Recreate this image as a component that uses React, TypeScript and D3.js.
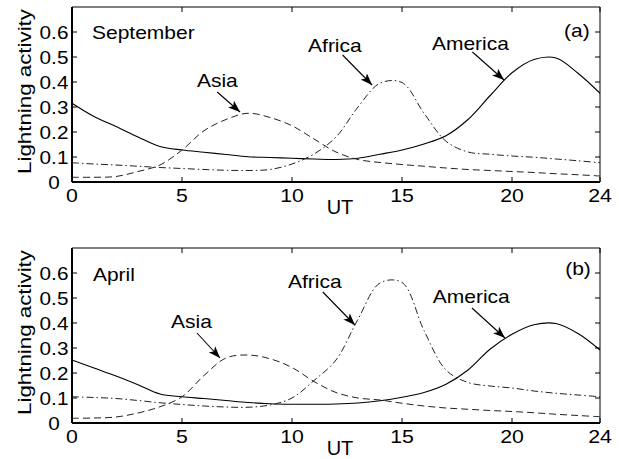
import React from "react";
import { scaleLinear, line, curveCatmullRom } from "d3";

// hours 0..24 (UT)
const hours = [0, 1, 2, 3, 4, 5, 6, 7, 8, 9, 10, 11, 12, 13, 14, 15, 16, 17, 18, 19, 20, 21, 22, 23, 24];

// September (panel a)
const sepAmerica = [0.315, 0.262, 0.222, 0.18, 0.142, 0.128, 0.119, 0.11, 0.101, 0.098, 0.095, 0.092, 0.09, 0.095, 0.111, 0.128, 0.152, 0.185, 0.25, 0.345, 0.437, 0.49, 0.496, 0.435, 0.355];
const sepAsia = [0.019, 0.019, 0.022, 0.042, 0.068, 0.128, 0.205, 0.25, 0.275, 0.258, 0.225, 0.172, 0.12, 0.09, 0.078, 0.07, 0.063, 0.056, 0.05, 0.046, 0.042, 0.038, 0.033, 0.029, 0.024];
const sepAfrica = [0.077, 0.072, 0.068, 0.063, 0.058, 0.054, 0.05, 0.047, 0.046, 0.05, 0.072, 0.112, 0.18, 0.3, 0.395, 0.398, 0.275, 0.163, 0.12, 0.111, 0.104, 0.099, 0.092, 0.085, 0.077];

// April (panel b)
const aprAmerica = [0.252, 0.22, 0.188, 0.153, 0.116, 0.105, 0.098, 0.09, 0.082, 0.077, 0.075, 0.075, 0.076, 0.08, 0.089, 0.103, 0.122, 0.155, 0.212, 0.295, 0.355, 0.393, 0.398, 0.358, 0.292];
const aprAsia = [0.019, 0.02, 0.024, 0.04, 0.065, 0.105, 0.19, 0.26, 0.272, 0.257, 0.222, 0.166, 0.122, 0.1, 0.092, 0.079, 0.068, 0.06, 0.055, 0.05, 0.046, 0.041, 0.035, 0.03, 0.025];
const aprAfrica = [0.105, 0.102, 0.098, 0.09, 0.081, 0.074, 0.068, 0.064, 0.063, 0.072, 0.1, 0.17, 0.252, 0.415, 0.56, 0.562, 0.37, 0.212, 0.162, 0.148, 0.14, 0.128, 0.119, 0.112, 0.105];

const xTicks = [0, 5, 10, 15, 20, 24];
const yTicks = [0, 0.1, 0.2, 0.3, 0.4, 0.5, 0.6];
const yTickLabels = ["0", "0.1", "0.2", "0.3", "0.4", "0.5", "0.6"];

const FONT = "'Liberation Sans', Arial, Helvetica, sans-serif";

const W = 619;
const H = 459;
const left = 72;
const right = 600;
const plotH = 175;

type Note = { text: string; th: number; tv: number; sh?: number; sv?: number; eh?: number; ev?: number; anchor?: string };

const Label = ({ x, y, size = 17.5, sx = 1.2, anchor = "start", children }: any) => (
  <text
    transform={`translate(${x},${y}) scale(${sx},1)`}
    fontSize={size}
    fontFamily={FONT}
    textAnchor={anchor}
    fill="#000"
  >
    {children}
  </text>
);

const Panel = ({ top, america, asia, africa, notes }: { top: number; america: number[]; asia: number[]; africa: number[]; notes: Note[] }) => {
  const x = scaleLinear().domain([0, 24]).range([left, right]);
  const y = scaleLinear().domain([0, 0.7]).range([plotH, 0]);

  const mk = (vals: number[]) =>
    line<number>()
      .x((d, i) => x(hours[i]))
      .y((d) => y(d))
      .curve(curveCatmullRom.alpha(0.5))(vals) || "";

  return (
    <g transform={`translate(0,${top})`}>
      <path d={mk(america)} fill="none" stroke="#000" strokeWidth={1.1} />
      <path d={mk(asia)} fill="none" stroke="#222" strokeWidth={1} strokeDasharray="7,4" />
      <path d={mk(africa)} fill="none" stroke="#222" strokeWidth={1} strokeDasharray="7,3,1.5,3" />

      {/* frame */}
      <line x1={left} x2={right} y1={0} y2={0} stroke="#000" strokeWidth={1} />
      <line x1={right} x2={right} y1={0} y2={plotH} stroke="#000" strokeWidth={1} />
      <line x1={left} x2={right} y1={plotH} y2={plotH} stroke="#000" strokeWidth={2} />
      <line x1={left} x2={left} y1={0} y2={plotH} stroke="#000" strokeWidth={2} />

      {xTicks.map((t) => (
        <g key={"x" + t}>
          <line x1={x(t)} x2={x(t)} y1={plotH} y2={plotH - 5} stroke="#000" />
          <line x1={x(t)} x2={x(t)} y1={0} y2={5} stroke="#000" />
          <Label x={x(t)} y={plotH + 19.5} size={19} sx={1.12} anchor="middle">{t}</Label>
        </g>
      ))}
      {yTicks.map((t, i) => (
        <g key={"y" + t}>
          <line x1={left} x2={left + 5} y1={y(t)} y2={y(t)} stroke="#000" />
          <line x1={right} x2={right - 5} y1={y(t)} y2={y(t)} stroke="#000" />
          <Label x={54} y={y(t) + 6.5} size={18.5} sx={1.12} anchor="middle">{yTickLabels[i]}</Label>
        </g>
      ))}

      <text
        transform={`translate(31,${plotH / 2 - 3}) rotate(-90) scale(1.24,1)`}
        fontSize={18}
        fontFamily={FONT}
        textAnchor="middle"
      >
        Lightning activity
      </text>
      <text x={340} y={plotH + 32} fontSize={20} fontFamily={FONT} textAnchor="middle">UT</text>

      {notes.map((n, i) => (
        <g key={i}>
          <Label x={x(n.th)} y={y(n.tv)} anchor={n.anchor || "start"}>{n.text}</Label>
          {n.sh !== undefined && (
            <line
              x1={x(n.sh)}
              y1={y(n.sv!)}
              x2={x(n.eh!)}
              y2={y(n.ev!)}
              stroke="#000"
              strokeWidth={1.1}
              markerEnd="url(#arrow)"
            />
          )}
        </g>
      ))}
    </g>
  );
};

const sepNotes: Note[] = [
  { text: "September", th: 0.91, tv: 0.572 },
  { text: "Asia", th: 5.68, tv: 0.38, sh: 6.6, sv: 0.36, eh: 7.64, ev: 0.28 },
  { text: "Africa", th: 10.73, tv: 0.52, sh: 12.3, sv: 0.508, eh: 13.64, ev: 0.388 },
  { text: "America", th: 16.36, tv: 0.528, sh: 18.2, sv: 0.52, eh: 19.64, ev: 0.408 },
  { text: "(a)", th: 22.95, tv: 0.58, anchor: "middle" },
];

const aprNotes: Note[] = [
  { text: "April", th: 0.95, tv: 0.568 },
  { text: "Asia", th: 4.5, tv: 0.38, sh: 5.68, sv: 0.36, eh: 6.73, ev: 0.26 },
  { text: "Africa", th: 9.82, tv: 0.54, sh: 11.4, sv: 0.524, eh: 12.86, ev: 0.392 },
  { text: "America", th: 16.4, tv: 0.48, sh: 18.18, sv: 0.46, eh: 19.68, ev: 0.34 },
  { text: "(b)", th: 23.0, tv: 0.592, anchor: "middle" },
];

export default function App() {
  return (
    <svg
      width={W}
      height={H}
      style={{ position: "absolute", left: 0, top: 0, background: "#fff" }}
    >
      <defs>
        <marker
          id="arrow"
          markerUnits="userSpaceOnUse"
          markerWidth={13}
          markerHeight={9}
          refX={12}
          refY={4.5}
          orient="auto"
        >
          <path d="M0,0 L12,4.5 L0,9 L3,4.5 Z" fill="#000" />
        </marker>
      </defs>
      <rect width={W} height={H} fill="#fff" />
      <Panel top={7} america={sepAmerica} asia={sepAsia} africa={sepAfrica} notes={sepNotes} />
      <Panel top={248} america={aprAmerica} asia={aprAsia} africa={aprAfrica} notes={aprNotes} />
    </svg>
  );
}
